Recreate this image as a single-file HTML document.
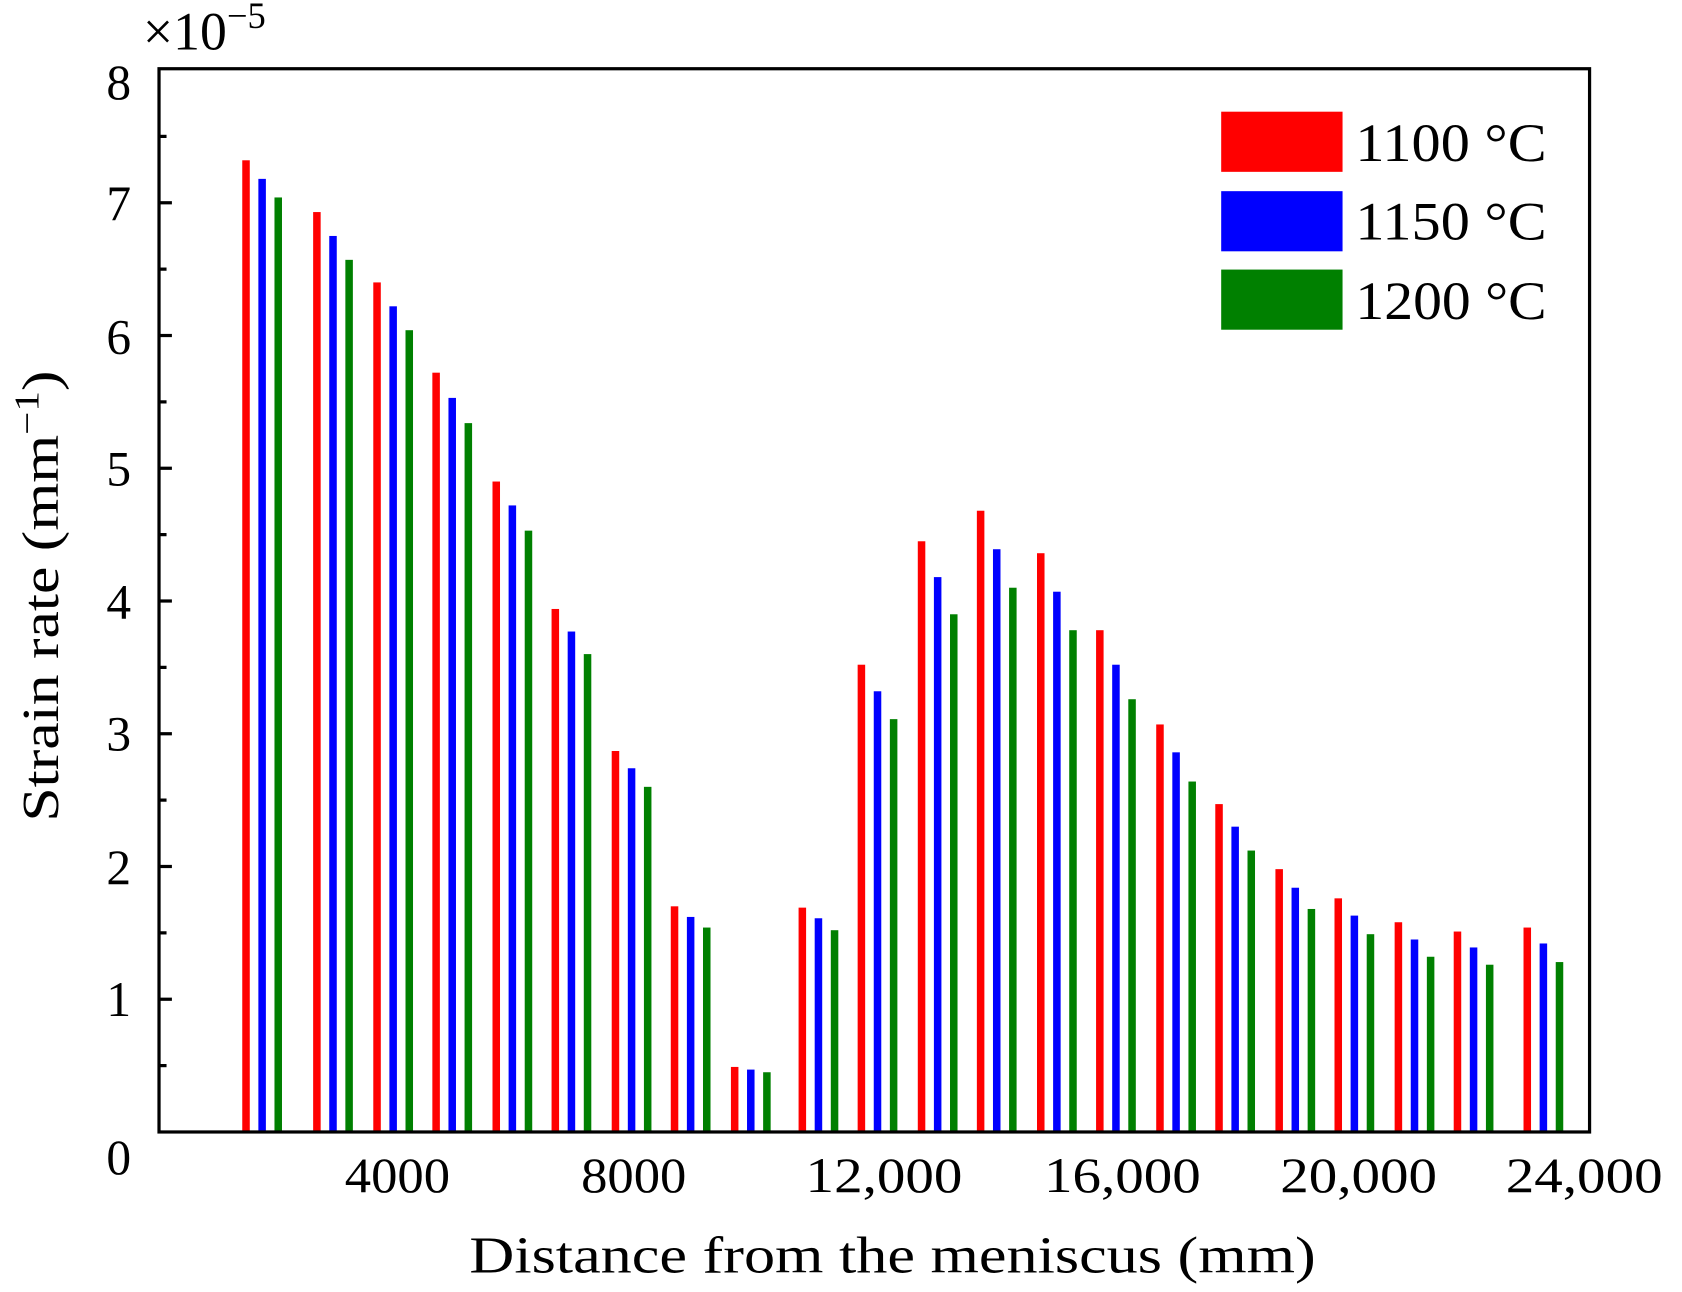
<!DOCTYPE html>
<html><head><meta charset="utf-8"><style>
html,body{margin:0;padding:0;background:#fff;}
svg{display:block;}
text{font-family:"Liberation Serif",serif;fill:#000;}
</style></head><body>
<svg id="s" width="1682" height="1292" viewBox="0 0 1566 1203" xmlns="http://www.w3.org/2000/svg">
<rect width="1566" height="1203" fill="#fff"/>
<g id="bars"></g>
<rect x="148" y="64" width="1332" height="990" fill="none" stroke="#000" stroke-width="3"/>
<g id="ticks" stroke="#000" stroke-width="3"></g>
<g font-size="46" text-anchor="end">
<text x="122" y="92">8</text><text x="122" y="205">7</text><text x="122" y="329">6</text><text x="122" y="452">5</text><text x="122" y="576">4</text><text x="122" y="699">3</text><text x="122" y="823">2</text><text x="122" y="946">1</text><text x="122" y="1093">0</text>
</g>
<g font-size="46">
<text x="321" y="1110" textLength="98" lengthAdjust="spacingAndGlyphs">4000</text>
<text x="541" y="1110" textLength="98" lengthAdjust="spacingAndGlyphs">8000</text>
<text x="750" y="1110" textLength="146" lengthAdjust="spacingAndGlyphs">12,000</text>
<text x="972" y="1110" textLength="146" lengthAdjust="spacingAndGlyphs">16,000</text>
<text x="1192" y="1110" textLength="146" lengthAdjust="spacingAndGlyphs">20,000</text>
<text x="1402" y="1110" textLength="146" lengthAdjust="spacingAndGlyphs">24,000</text>
</g>
<text x="133" y="46" font-size="50">×10<tspan font-size="34" dy="-20">−5</tspan></text>
<text x="437" y="1185" font-size="48" textLength="788" lengthAdjust="spacingAndGlyphs">Distance from the meniscus (mm)</text>
<text transform="translate(54,765) rotate(-90)" font-size="48" textLength="420" lengthAdjust="spacingAndGlyphs">Strain rate (mm<tspan font-size="32" dy="-18">−1</tspan><tspan dy="18">)</tspan></text>
<rect x="1137" y="104" width="113" height="56" fill="#f00"/>
<rect x="1137" y="178" width="113" height="56" fill="#00f"/>
<rect x="1137" y="251" width="113" height="56" fill="#008000"/>
<g font-size="50"><text x="1262" y="150" textLength="178" lengthAdjust="spacingAndGlyphs">1100 °C</text><text x="1262" y="223" textLength="178" lengthAdjust="spacingAndGlyphs">1150 °C</text><text x="1262" y="297" textLength="178" lengthAdjust="spacingAndGlyphs">1200 °C</text></g>
</svg>
<script>
var xs=[229,295,351,406,462,517,573,628,684,747,802,858,913,969,1024,1080,1135,1191,1246,1302,1357,1422];
var v=[[7.32,7.18,7.04],[6.93,6.75,6.57],[6.40,6.22,6.04],[5.72,5.53,5.34],[4.90,4.72,4.53],[3.94,3.77,3.60],[2.87,2.74,2.60],[1.70,1.62,1.54],[0.49,0.47,0.45],[1.69,1.61,1.52],[3.52,3.32,3.11],[4.45,4.18,3.90],[4.68,4.39,4.10],[4.36,4.07,3.78],[3.78,3.52,3.26],[3.07,2.86,2.64],[2.47,2.30,2.12],[1.98,1.84,1.68],[1.76,1.63,1.49],[1.58,1.45,1.32],[1.51,1.39,1.26],[1.54,1.42,1.28]];
var c=["#f00","#00f","#008000"],h="",z=1054,u=123.6;
for(var i=0;i<xs.length;i++)for(var k=0;k<3;k++){var x=xs[i]+k*15,y=z-v[i][k]*u;h+='<rect x="'+(x-3.5)+'" y="'+y+'" width="7" height="'+(z-y)+'" fill="'+c[k]+'"/>';}
document.getElementById("bars").innerHTML=h;
var t="";for(var j=1;j<16;j++){var y=z-j*u/2;var l=(j%2==0)?12:7;t+='<line x1="148" x2="'+(148+l)+'" y1="'+y+'" y2="'+y+'"/>';}
document.getElementById("ticks").innerHTML=t;
</script>
</body></html>
